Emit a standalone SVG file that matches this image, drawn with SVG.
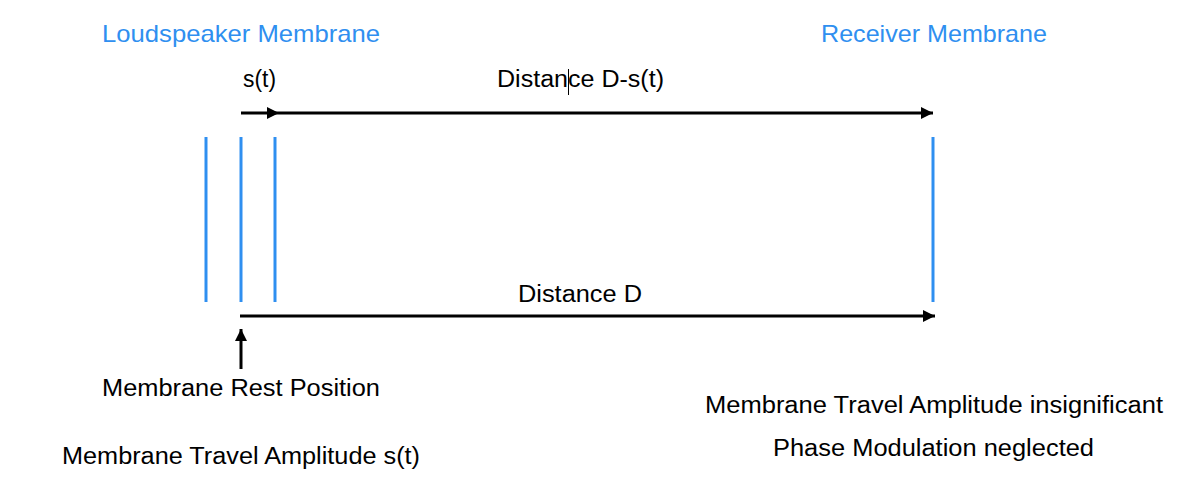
<svg xmlns="http://www.w3.org/2000/svg" width="1200" height="491" viewBox="0 0 1200 491">
<defs>
<style>
.t{font-family:"Liberation Sans",Arial,Helvetica,sans-serif;font-size:23px;fill:#000}
.b{fill:#2f8ff0;font-size:24px}
.m{stroke:#2f8ff0;stroke-width:3;fill:none}
.c{stroke:#000;stroke-width:3;fill:none}
</style>
<marker id="ah" viewBox="0 0 12 12" refX="12" refY="6" markerWidth="12" markerHeight="12" markerUnits="userSpaceOnUse" orient="auto">
<path d="M0,0 L12,6 L0,12 Z" fill="#000"/>
</marker>
</defs>
<rect width="1200" height="491" fill="#fff"/>
<g id="loudspeaker">
<text class="t b" x="102" y="42" textLength="278" lengthAdjust="spacingAndGlyphs">Loudspeaker Membrane</text>
<line class="m" x1="206" y1="137" x2="206" y2="302"/>
<line class="m" x1="241" y1="137" x2="241" y2="302"/>
<line class="m" x1="275" y1="137" x2="275" y2="302"/>
</g>
<g id="receiver">
<text class="t b" x="821" y="42" textLength="226" lengthAdjust="spacingAndGlyphs">Receiver Membrane</text>
<line class="m" x1="933" y1="137" x2="933" y2="302"/>
</g>
<g id="connectors">
<line class="c" x1="241" y1="113" x2="279" y2="113" marker-end="url(#ah)"/>
<line class="c" x1="279" y1="113" x2="933" y2="113" marker-end="url(#ah)"/>
<line class="c" x1="240" y1="316" x2="935" y2="316" marker-end="url(#ah)"/>
<line class="c" x1="241" y1="369" x2="241" y2="329" marker-end="url(#ah)"/>
</g>
<g id="labels">
<text class="t" x="243" y="87" textLength="33" lengthAdjust="spacingAndGlyphs">s(t)</text>
<text class="t" x="497" y="87" textLength="167" lengthAdjust="spacingAndGlyphs">Distance D-s(t)</text>
<line x1="568.5" y1="69" x2="568.5" y2="95" stroke="#000" stroke-width="1"/>
<text class="t" x="518" y="302" textLength="124" lengthAdjust="spacingAndGlyphs">Distance D</text>
<text class="t" x="102" y="396" textLength="278" lengthAdjust="spacingAndGlyphs">Membrane Rest Position</text>
<text class="t" x="62" y="464" textLength="358" lengthAdjust="spacingAndGlyphs">Membrane Travel Amplitude s(t)</text>
<text class="t" x="705" y="413" textLength="458" lengthAdjust="spacingAndGlyphs">Membrane Travel Amplitude insignificant</text>
<text class="t" x="773" y="456" textLength="321" lengthAdjust="spacingAndGlyphs">Phase Modulation neglected</text>
</g>
</svg>
